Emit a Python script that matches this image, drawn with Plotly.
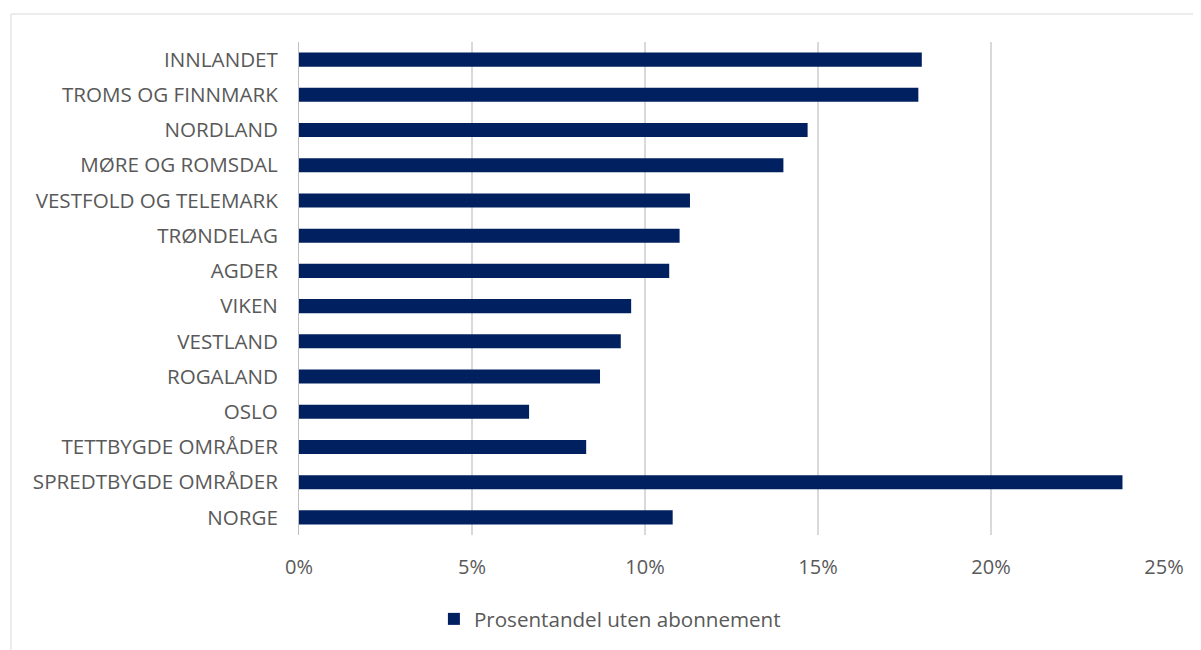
import plotly.graph_objects as go

categories = [
    "INNLANDET", "TROMS OG FINNMARK", "NORDLAND", "MØRE OG ROMSDAL",
    "VESTFOLD OG TELEMARK", "TRØNDELAG", "AGDER", "VIKEN", "VESTLAND",
    "ROGALAND", "OSLO", "TETTBYGDE OMRÅDER", "SPREDTBYGDE OMRÅDER", "NORGE",
]
values = [18.0, 17.9, 14.7, 14.0, 11.3, 11.0, 10.7, 9.6, 9.3, 8.7, 6.65, 8.3, 23.8, 10.8]
series_name = "Prosentandel uten abonnement"
x_tickvals = [0, 5, 10, 15, 20, 25]
x_ticktext = ["0%", "5%", "10%", "15%", "20%", "25%"]

# page body has an 8px margin; figure sized so it fits the 1201x650 window
W, H = 1193, 642
ML, MR, MT, MB = 291, 37, 34, 115
FONT = "Open Sans"
TXT = "#595959"

fig = go.Figure()
fig.add_trace(go.Bar(
    y=categories, x=values, orientation="h", name=series_name,
    marker=dict(color="#002060", line=dict(width=0)),
    showlegend=True,
))

pw = W - ML - MR
ph = H - MT - MB
fig.add_shape(
    type="rect", xref="paper", yref="paper",
    x0=(3 - ML) / pw, x1=(W + 10 - ML) / pw,
    y0=(H - MB - (H + 10)) / ph, y1=(H - MB - 6) / ph,
    line=dict(color="#d9d9d9", width=1), fillcolor="rgba(0,0,0,0)", layer="below",
)

fig.update_layout(
    width=W, height=H,
    margin=dict(l=ML, r=MR, t=MT, b=MB, autoexpand=False),
    paper_bgcolor="white", plot_bgcolor="white",
    font=dict(family=FONT, size=20.6, color=TXT),
    bargap=0.6,
    xaxis=dict(
        range=[0, 25], tickvals=x_tickvals, ticktext=x_ticktext,
        showgrid=True, gridcolor="#d9d9d9", gridwidth=1.5,
        zeroline=False, showline=False, ticks="",
        ticklabelstandoff=18, tickfont=dict(size=20, color=TXT),
    ),
    yaxis=dict(
        autorange="reversed", showgrid=False, zeroline=False,
        showline=True, linecolor="#bfbfbf", linewidth=1, ticks="",
        ticklabelstandoff=16, tickfont=dict(size=20.6, color=TXT),
    ),
    legend=dict(
        orientation="h", xref="container", yref="container",
        x=0.357, y=0.0483, xanchor="left", yanchor="middle",
        font=dict(size=20.6, color=TXT),
    ),
)

fig.write_html("out.html")
